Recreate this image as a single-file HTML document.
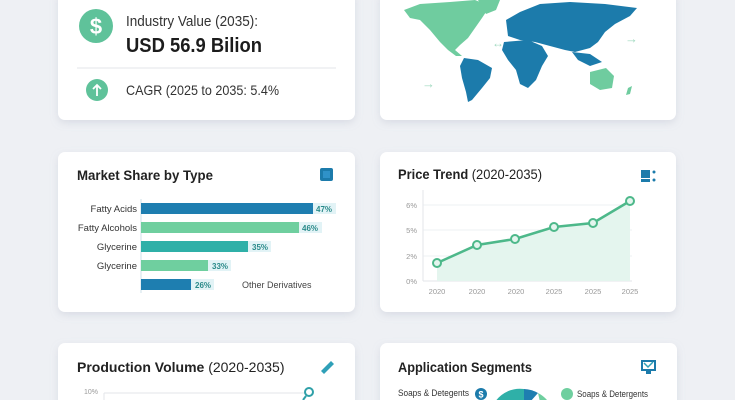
<!DOCTYPE html>
<html><head><meta charset="utf-8"><style>
html,body{margin:0;padding:0;width:735px;height:400px;overflow:hidden;background:#eef0f4;}
svg{display:block;font-family:"Liberation Sans",sans-serif;}
</style></head><body>
<svg width="735" height="400" viewBox="0 0 735 400" xmlns="http://www.w3.org/2000/svg">
<defs>
<filter id="sh" x="-10%" y="-10%" width="120%" height="130%"><feDropShadow dx="0" dy="3" stdDeviation="4" flood-color="#9aa3b5" flood-opacity="0.25"/></filter>
</defs>
<rect width="735" height="400" fill="#eef0f4"/>
<g filter="url(#sh)" fill="#fff">
<rect x="58" y="-10" width="297" height="130" rx="7"/>
<rect x="380" y="-10" width="296" height="130" rx="7"/>
<rect x="58" y="152" width="297" height="160" rx="7"/>
<rect x="380" y="152" width="296" height="160" rx="7"/>
<rect x="58" y="343" width="297" height="70" rx="7"/>
<rect x="380" y="343" width="297" height="70" rx="7"/>
</g>
<!-- card 1 -->
<circle cx="96" cy="26" r="17" fill="#5fc29a"/>
<text x="96" y="34" font-size="22" font-weight="bold" fill="#fff" text-anchor="middle">$</text>
<text x="126" y="26" font-size="15" fill="#333" textLength="132" lengthAdjust="spacingAndGlyphs">Industry Value (2035):</text>
<text x="126" y="52" font-size="20" font-weight="bold" fill="#1c1c1c" textLength="136" lengthAdjust="spacingAndGlyphs">USD 56.9 Bilion</text>
<line x1="77" y1="68" x2="336" y2="68" stroke="#e3e5e9" stroke-width="1"/>
<circle cx="97" cy="90" r="11" fill="#5fc29a"/>
<path d="M97 96 V85 M93 89 L97 85 L101 89" stroke="#fff" stroke-width="1.8" fill="none"/>
<text x="126" y="95" font-size="14" fill="#333" textLength="153" lengthAdjust="spacingAndGlyphs">CAGR (2025 to 2035: 5.4%</text>
<!-- card 2 map approx -->
<g fill="#6fcc9f">
<path d="M404 10 L420 4 L450 2 L475 0 L490 6 L482 18 L475 28 L468 38 L460 45 L455 50 L462 56 L456 56 L448 50 L440 42 L430 30 L420 20 L410 18Z"/>
<path d="M478 0 L500 0 L496 10 L486 14Z"/>
<path d="M590 72 L606 68 L614 76 L612 88 L600 90 L590 84Z"/>
<path d="M628 88 L632 86 L630 94 L626 95Z"/>
</g>
<g fill="#1c7bab">
<path d="M464 58 L478 60 L492 68 L490 78 L482 88 L472 100 L468 102 L466 92 L462 78 L460 66Z"/>
<path d="M506 20 L520 12 L540 4 L570 2 L605 4 L637 8 L630 16 L615 24 L605 32 L598 42 L590 48 L575 52 L565 50 L550 46 L535 42 L520 40 L508 36Z"/>
<path d="M504 42 L528 40 L542 46 L548 56 L542 66 L536 80 L528 88 L520 84 L516 70 L508 60 L502 50Z"/>
<path d="M572 52 L590 54 L602 62 L590 66 L578 60Z"/>
</g>
<text x="492" y="47" font-size="12" fill="#9fd9bf">↔</text>
<text x="625" y="43" font-size="13" fill="#9fd9bf">→</text>
<text x="422" y="88" font-size="13" fill="#9fd9bf">→</text>
<!-- card 3 -->
<text x="77" y="180" font-size="14" font-weight="bold" fill="#222" textLength="136" lengthAdjust="spacingAndGlyphs">Market Share by Type</text>
<rect x="320" y="168" width="13" height="13" rx="2" fill="#1c7bab"/>
<rect x="323" y="171" width="7" height="7" fill="#2f92c8"/>
<line x1="141" y1="199" x2="141" y2="293" stroke="#cfe0ea"/>
<g font-size="9.5" fill="#333" text-anchor="end">
<text x="137" y="212">Fatty Acids</text>
<text x="137" y="231">Fatty Alcohols</text>
<text x="137" y="250">Glycerine</text>
<text x="137" y="269">Glycerine</text>
</g>
<rect x="141" y="203" width="172" height="11" fill="#1e7eb0"/>
<rect x="141" y="222" width="158" height="11" fill="#6fcf9f"/>
<rect x="141" y="241" width="107" height="11" fill="#2fb0a8"/>
<rect x="141" y="260" width="67" height="11" fill="#6fcf9f"/>
<rect x="141" y="279" width="50" height="11" fill="#1e7eb0"/>
<g font-size="8" font-weight="bold" fill="#2a8a8a">
<rect x="313" y="203" width="23" height="11" fill="#e2f3f6"/><text x="316" y="212">47%</text>
<rect x="299" y="222" width="23" height="11" fill="#e2f3f6"/><text x="302" y="231">46%</text>
<rect x="248" y="241" width="23" height="11" fill="#e2f3f6"/><text x="252" y="250">35%</text>
<rect x="208" y="260" width="23" height="11" fill="#e2f3f6"/><text x="212" y="269">33%</text>
<rect x="191" y="279" width="23" height="11" fill="#e2f3f6"/><text x="195" y="288">26%</text>
</g>
<text x="242" y="288" font-size="9" fill="#444">Other Derivatives</text>
<!-- card 4 -->
<text x="398" y="179" font-size="14" fill="#222" textLength="144" lengthAdjust="spacingAndGlyphs"><tspan font-weight="bold">Price Trend</tspan> (2020-2035)</text>
<rect x="641" y="170" width="9" height="8" fill="#1c7bab"/>
<rect x="641" y="179" width="9" height="3" fill="#1c7bab"/>
<circle cx="654" cy="172" r="1.5" fill="#1c7bab"/><circle cx="654" cy="180" r="1.5" fill="#1c7bab"/>
<g stroke="#eef1f3"><line x1="423" y1="205" x2="632" y2="205"/><line x1="423" y1="230" x2="632" y2="230"/><line x1="423" y1="256" x2="632" y2="256"/></g>
<line x1="423" y1="190" x2="423" y2="281" stroke="#e3e6ea"/>
<line x1="423" y1="281" x2="632" y2="281" stroke="#e3e6ea"/>
<g font-size="7.5" fill="#999" text-anchor="end">
<text x="417" y="208">6%</text><text x="417" y="233">5%</text><text x="417" y="259">2%</text><text x="417" y="284">0%</text>
</g>
<g font-size="7.5" fill="#999" text-anchor="middle">
<text x="437" y="294">2020</text><text x="477" y="294">2020</text><text x="516" y="294">2020</text><text x="554" y="294">2025</text><text x="593" y="294">2025</text><text x="630" y="294">2025</text>
</g>
<path d="M437 263 L477 245 L515 239 L554 227 L593 223 L630 201 L630 281 L437 281Z" fill="#e4f5ee"/>
<path d="M437 263 L477 245 L515 239 L554 227 L593 223 L630 201" fill="none" stroke="#4db88a" stroke-width="2.5"/>
<g fill="#e4f5ee" stroke="#4db88a" stroke-width="2">
<circle cx="437" cy="263" r="4"/><circle cx="477" cy="245" r="4"/><circle cx="515" cy="239" r="4"/><circle cx="554" cy="227" r="4"/><circle cx="593" cy="223" r="4"/><circle cx="630" cy="201" r="4"/>
</g>
<!-- card 5 -->
<text x="77" y="372" font-size="14" fill="#222"><tspan font-weight="bold">Production Volume</tspan> (2020-2035)</text>
<path d="M321 371 L331 361 L334 364 L324 374Z" fill="#2fa0b8"/>
<text x="84" y="394" font-size="7" fill="#999">10%</text>
<line x1="104" y1="393" x2="305" y2="393" stroke="#e3e6ea"/>
<line x1="104" y1="393" x2="104" y2="400" stroke="#e3e6ea"/>
<circle cx="309" cy="392" r="4" fill="none" stroke="#2fa0a8" stroke-width="2"/>
<line x1="306" y1="396" x2="303" y2="400" stroke="#2fa0a8" stroke-width="2"/>
<!-- card 6 -->
<text x="398" y="372" font-size="14" font-weight="bold" fill="#222" textLength="134" lengthAdjust="spacingAndGlyphs">Application Segments</text>
<rect x="642" y="361" width="13" height="9" fill="none" stroke="#1c7bab" stroke-width="2"/>
<path d="M644 363 L648 367 L653 362" fill="none" stroke="#2fa0b8" stroke-width="1.5"/>
<rect x="646" y="371" width="5" height="3" fill="#1c7bab"/>
<text x="398" y="396" font-size="9" fill="#333" textLength="71" lengthAdjust="spacingAndGlyphs">Soaps &amp; Detegents</text>
<circle cx="481" cy="394" r="6" fill="#1c7bab"/>
<text x="481" y="397.5" font-size="9" font-weight="bold" fill="#fff" text-anchor="middle">$</text>
<path d="M495 402 A30 30 0 0 1 524 389 L524 402Z" fill="#2fb0a8"/>
<path d="M524 389 A30 30 0 0 1 538 393 L530 402 L524 402Z" fill="#1e7eb0"/>
<path d="M538 393 A30 30 0 0 1 547 400 L540 402Z" fill="#6fcf9f"/>
<circle cx="567" cy="394" r="6" fill="#6fcf9f"/>
<text x="577" y="397" font-size="9" fill="#333" textLength="71" lengthAdjust="spacingAndGlyphs">Soaps &amp; Detergents</text>
</svg>
</body></html>
